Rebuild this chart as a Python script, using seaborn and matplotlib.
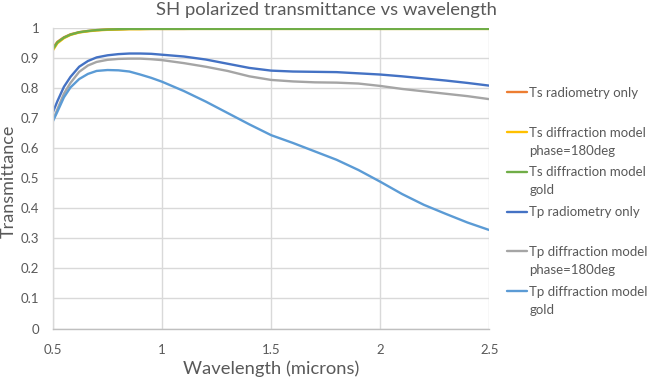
import matplotlib
matplotlib.use("Agg")
import matplotlib.pyplot as plt
import seaborn as sns
import pandas as pd

# ---- data ----
wavelength = [0.50, 0.52, 0.55, 0.58, 0.62, 0.66, 0.70, 0.75, 0.80, 0.85, 0.90, 0.95,
              1.00, 1.10, 1.20, 1.30, 1.40, 1.50, 1.60, 1.70, 1.80, 1.90, 2.00, 2.10,
              2.20, 2.30, 2.40, 2.50]

ts_radiometry = [0.935, 0.955, 0.970, 0.980, 0.987, 0.991, 0.994, 0.996, 0.997, 0.998, 0.998, 0.998,
                 0.998, 0.998, 0.999, 0.999, 0.999, 0.999, 0.999, 0.999, 0.999, 0.999, 0.999, 0.999,
                 0.999, 0.999, 0.999, 0.999]
ts_phase180 = [0.927, 0.950, 0.967, 0.978, 0.986, 0.990, 0.993, 0.995, 0.996, 0.997, 0.997, 0.998,
               0.998, 0.998, 0.998, 0.998, 0.998, 0.998, 0.998, 0.998, 0.998, 0.998, 0.998, 0.998,
               0.998, 0.998, 0.998, 0.998]
ts_gold = [0.931, 0.953, 0.969, 0.979, 0.987, 0.991, 0.994, 0.996, 0.997, 0.998, 0.998, 0.998,
           0.998, 0.998, 0.998, 0.998, 0.998, 0.998, 0.998, 0.998, 0.998, 0.998, 0.998, 0.998,
           0.998, 0.998, 0.998, 0.998]
tp_radiometry = [0.721, 0.757, 0.805, 0.838, 0.872, 0.891, 0.903, 0.910, 0.914, 0.916, 0.916, 0.915,
                 0.912, 0.906, 0.896, 0.882, 0.868, 0.859, 0.856, 0.855, 0.854, 0.850, 0.846, 0.840,
                 0.833, 0.826, 0.818, 0.809]
tp_phase180 = [0.694, 0.730, 0.782, 0.818, 0.855, 0.876, 0.888, 0.895, 0.898, 0.899, 0.899, 0.897,
               0.894, 0.884, 0.872, 0.858, 0.840, 0.828, 0.823, 0.820, 0.819, 0.816, 0.808, 0.798,
               0.790, 0.782, 0.774, 0.764]
tp_gold = [0.691, 0.722, 0.770, 0.803, 0.831, 0.848, 0.858, 0.861, 0.860, 0.856, 0.846, 0.835,
           0.822, 0.791, 0.756, 0.718, 0.680, 0.644, 0.618, 0.590, 0.562, 0.528, 0.489, 0.448,
           0.412, 0.382, 0.353, 0.328]

series_names = ["Ts radiometry only", "Ts diffraction model phase=180deg", "Ts diffraction model gold",
                "Tp radiometry only", "Tp diffraction model phase=180deg", "Tp diffraction model gold"]
series_values = [ts_radiometry, ts_phase180, ts_gold, tp_radiometry, tp_phase180, tp_gold]
legend_first = ["Ts radiometry only", "Ts diffraction model", "Ts diffraction model",
                "Tp radiometry only", "Tp diffraction model", "Tp diffraction model"]
legend_second = ["", "phase=180deg", "gold", "", "phase=180deg", "gold"]
colors = ["#ED7D31", "#FFC000", "#70AD47", "#4472C4", "#A5A5A5", "#5B9BD5"]

x_ticks = [0.5, 1, 1.5, 2, 2.5]
x_tick_labels = ["0.5", "1", "1.5", "2", "2.5"]
y_ticks = [0, 0.1, 0.2, 0.3, 0.4, 0.5, 0.6, 0.7, 0.8, 0.9, 1.0]
y_tick_labels = ["0", "0.1", "0.2", "0.3", "0.4", "0.5", "0.6", "0.7", "0.8", "0.9", "1"]

rows = []
for name, vals in zip(series_names, series_values):
    for w, v in zip(wavelength, vals):
        rows.append({"Wavelength": w, "T": v, "Series": name})
df = pd.DataFrame(rows)

# ---- style ----
sns.set_theme(style="white")
plt.rcParams["font.family"] = ["Lato", "DejaVu Sans"]
text_color = "#595959"
grid_color = "#D9D9D9"

W, H = 648, 380
fig = plt.figure(figsize=(W / 100, H / 100), dpi=100)
ax_left, ax_right, ax_top, ax_bottom = 53, 489.3, 28.3, 328.5
ax = fig.add_axes([ax_left / W, 1 - ax_bottom / H, (ax_right - ax_left) / W, (ax_bottom - ax_top) / H])

sns.lineplot(data=df, x="Wavelength", y="T", hue="Series", hue_order=series_names,
             palette=colors, linewidth=1.7, ax=ax, legend=False, sort=True)

ax.set_xlim(0.5, 2.5)
ax.set_ylim(0, 1)
ax.set_xticks(x_ticks)
ax.set_xticklabels(x_tick_labels)
ax.set_yticks(y_ticks)
ax.set_yticklabels(y_tick_labels)
ax.grid(True, color=grid_color, linewidth=1.0)
ax.set_axisbelow(True)
for s in ["top", "right"]:
    ax.spines[s].set_visible(False)
ax.spines["left"].set_color(grid_color)
ax.spines["bottom"].set_color("#BFBFBF")
ax.spines["left"].set_linewidth(1.0)
ax.spines["bottom"].set_linewidth(1.0)
ax.tick_params(axis="both", length=0, colors=text_color, labelsize=9.5)
ax.tick_params(axis="x", pad=11)
ax.tick_params(axis="y", pad=10)

ax.set_xlabel("Wavelength (microns)", fontsize=13.2, color=text_color, labelpad=3)
ax.set_ylabel("Transmittance", fontsize=13.0, color=text_color)
ax.yaxis.set_label_coords((16.5 - ax_left) / (ax_right - ax_left), 0.49)
fig.suptitle("SH polarized transmittance vs wavelength", fontsize=13.3, color=text_color,
             x=0.503, y=0.995, va="top")

# ---- legend ----
handles = ax.get_lines()[:6]
leg = ax.legend(handles, legend_first, loc="upper left", bbox_to_anchor=(507 / W, 1 - 87 / H),
                bbox_transform=fig.transFigure, frameon=False, fontsize=9.5,
                handlelength=1.55, handletextpad=0.15, labelspacing=2.1, borderpad=0,
                borderaxespad=0)
for txt in leg.get_texts():
    txt.set_color(text_color)

fig.canvas.draw()
for txt, second in zip(leg.get_texts(), legend_second):
    if second:
        bx, by = txt.get_transform().transform(txt.get_position())
        fig.text(bx / W, (by - 18) / H, second, ha="left", va="baseline",
                 fontsize=9.5, color=text_color)

fig.savefig("out.png", dpi=100)
